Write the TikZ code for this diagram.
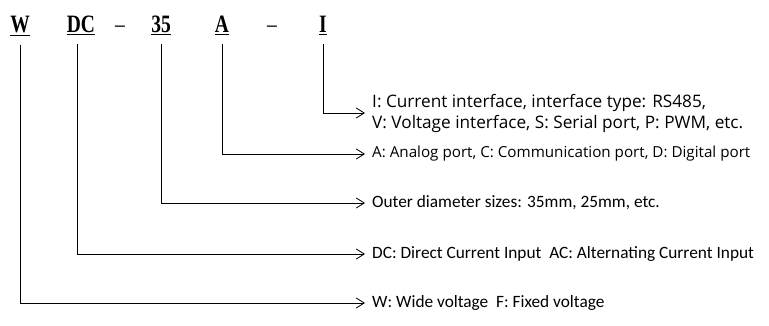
\documentclass[tikz,border=0pt]{standalone}
\usepackage{fontspec}
\usepackage{tikz}
\usetikzlibrary{arrows.meta, positioning, calc}
\newfontfamily\codefont[FakeStretch=0.78]{Liberation Serif}
\newfontfamily\descfont{Carlito}
\newfontfamily\ifacefont{Open Sans}

\begin{document}
\begin{tikzpicture}[x=1pt, y=-1pt,
    codeletter/.style={anchor=base, inner sep=0pt, font=\codefont\bfseries\fontsize{25}{25}\selectfont},
    codedash/.style={anchor=base, inner sep=0pt, font=\codefont\fontsize{25}{25}\selectfont},
    desc/.style={anchor=west, inner xsep=7pt, inner ysep=2pt, font=\descfont\fontsize{17.3}{20}\selectfont},
    iface/.style={anchor=west, inner xsep=7pt, inner ysep=2pt, align=left, font=\ifacefont\fontsize{15.2}{21}\selectfont},
    ifacebig/.style={iface, font=\ifacefont\fontsize{17.2}{21}\selectfont},
    pointer/.style={-{Straight Barb[length=8pt, width=10pt]}, line width=0.8pt}]
    \useasboundingbox (0, 0) rectangle (769, 326);

    % 型号代码
    \node[codeletter] (cW) at (20, 33) {\underline{W}};
    \node[codeletter] (cDC) at (81, 33) {\underline{DC}};
    \node[codedash] (dashA) at (120, 33) {–};
    \node[codeletter] (c35) at (161, 33) {\underline{35}};
    \node[codeletter] (cA) at (222, 33) {\underline{A}};
    \node[codedash] (dashB) at (272, 33) {–};
    \node[codeletter] (cI) at (323, 33) {\underline{I}};

    % 说明文字
    \node[ifacebig] (dI) at (365, 113) {I: Current interface, interface type: RS485,\\V: Voltage interface, S: Serial port, P: PWM, etc.};
    \node[iface] (dA) at (365, 154) {A: Analog port, C: Communication port, D: Digital port};
    \node[desc] (d35) at (365, 203) {Outer diameter sizes: 35mm, 25mm, etc.};
    \node[desc] (dDC) at (365, 254) {DC: Direct Current Input\ \ AC: Alternating Current Input};
    \node[desc] (dW) at (365, 303) {W: Wide voltage\ \ F: Fixed voltage};

    % 引线
    \draw[pointer] ([yshift=-9pt]cI.south) |- (dI.west);
    \draw[pointer] ([yshift=-9pt]cA.south) |- (dA.west);
    \draw[pointer] ([yshift=-9pt]c35.south) |- (d35.west);
    \draw[pointer] ([xshift=-4pt, yshift=-9pt]cDC.south) |- (dDC.west);
    \draw[pointer] ([yshift=-9pt]cW.south) |- (dW.west);
\end{tikzpicture}
\end{document}
